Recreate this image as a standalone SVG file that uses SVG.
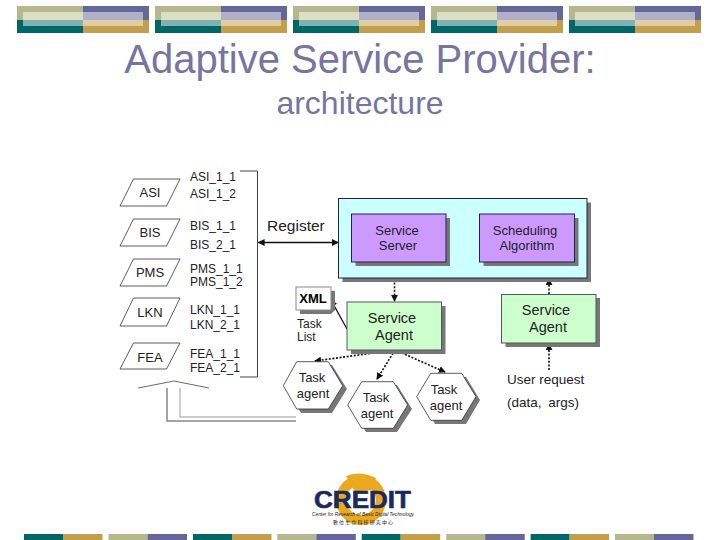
<svg xmlns="http://www.w3.org/2000/svg" width="720" height="540" viewBox="0 0 720 540">
<style>
text{font-family:"Liberation Sans",Arial,sans-serif;fill:#222}
.t{font-size:12px}.m{text-anchor:middle}
.l{font-size:13px}
.title{fill:#75759f;text-anchor:middle}
.p{fill:#fff;stroke:#333;stroke-width:.8}
.sh{fill:#777}
.con{fill:none;stroke:#111;stroke-width:1.3}
.dot{fill:none;stroke:#111;stroke-width:1.6;stroke-dasharray:2 1.6}
</style>
<defs>
<marker id="a" viewBox="0 0 8 8" refX="7" refY="4" markerWidth="7" markerHeight="7" markerUnits="userSpaceOnUse" orient="auto-start-reverse"><path d="M0 0L8 4L0 8z" fill="#111"/></marker>
<g id="hb">
<rect x="0" y="0" width="66" height="14" fill="#b5b88f"/><rect x="66" y="0" width="66" height="14" fill="#666699"/>
<rect x="0" y="14" width="66" height="13" fill="#006666"/><rect x="66" y="14" width="66" height="13" fill="#c29f4c"/>
<rect x="6" y="6" width="60" height="8" fill="#dcdfc4"/><rect x="66" y="6" width="60" height="8" fill="#b0b0cc"/>
<rect x="6" y="14" width="60" height="6" fill="#80b2b2"/><rect x="66" y="14" width="60" height="6" fill="#e0cfa5"/>
</g>
<g id="fa"><rect width="39" height="6" fill="#006666"/><rect x="39" width="39.5" height="6" fill="#c29f4c"/></g>
<g id="fb"><rect width="39" height="6" fill="#b5b88f"/><rect x="39" width="39.5" height="6" fill="#666699"/></g>
</defs>
<rect width="720" height="540" fill="#fff"/>
<g id="header">
<use href="#hb" x="17" y="6"/><use href="#hb" x="155" y="6"/><use href="#hb" x="293" y="6"/><use href="#hb" x="431" y="6"/><use href="#hb" x="569" y="6"/>
</g>
<g id="footer">
<use href="#fa" x="24" y="534"/><use href="#fb" x="108.5" y="534"/><use href="#fa" x="193" y="534"/><use href="#fb" x="277.3" y="534"/><use href="#fa" x="361.7" y="534"/><use href="#fb" x="446.2" y="534"/><use href="#fa" x="530.6" y="534"/><use href="#fb" x="615" y="534"/>
</g>
<text class="title" x="360" y="73" font-size="40">Adaptive Service Provider:</text>
<text class="title" x="360" y="114" font-size="32">architecture</text>

<g id="connectors">
<path d="M240 171H257.5V377H240" fill="none" stroke="#444" stroke-width="1"/>
<path class="con" d="M258.500 242.500H338" stroke-width="1.800" marker-start="url(#a)" marker-end="url(#a)"/>
<path d="M138 388L174 381L209 388" fill="none" stroke="#444" stroke-width=".8"/>
<path d="M167 388V421H296" fill="none" stroke="#888" stroke-width="1.500"/>
<path d="M180 388V417H296" fill="none" stroke="#999" stroke-width="1"/>
<path class="con" d="M446.500 238H479" marker-start="url(#a)" marker-end="url(#a)"/>
<path class="dot" d="M394.500 279V301" marker-end="url(#a)"/>
<path class="dot" d="M549 294V279" marker-end="url(#a)"/>
<path class="dot" d="M549 370V344" marker-end="url(#a)"/>
<path class="con" d="M331 300L347 329" stroke-width="1.600" marker-start="url(#a)"/>
<path class="dot" d="M395 350L315 361" marker-end="url(#a)"/>
<path class="dot" d="M395 350L377 379" marker-end="url(#a)"/>
<path class="dot" d="M395 350L445 372" marker-end="url(#a)"/>
</g>

<g id="n-asi"><path class="p" d="M133.500 179H180L166.500 206H120Z"/><text class="l m" x="150" y="197">ASI</text></g>
<g id="n-bis"><path class="p" d="M133.500 219H180L166.500 246H120Z"/><text class="l m" x="150" y="237">BIS</text></g>
<g id="n-pms"><path class="p" d="M133.500 259H180L166.500 286H120Z"/><text class="l m" x="150" y="277">PMS</text></g>
<g id="n-lkn"><path class="p" d="M133.500 298H180L166.500 326H120Z"/><text class="l m" x="150" y="317">LKN</text></g>
<g id="n-fea"><path class="p" d="M133.500 343H180L166.500 369H120Z"/><text class="l m" x="150" y="362">FEA</text></g>

<g id="services">
<text class="t" x="190" y="181">ASI_1_1</text><text class="t" x="190" y="198">ASI_1_2</text>
<text class="t" x="190" y="230">BIS_1_1</text><text class="t" x="190" y="249">BIS_2_1</text>
<text class="t" x="190" y="273">PMS_1_1</text><text class="t" x="190" y="286">PMS_1_2</text>
<text class="t" x="190" y="314">LKN_1_1</text><text class="t" x="190" y="329">LKN_2_1</text>
<text class="t" x="190" y="358">FEA_1_1</text><text class="t" x="190" y="372">FEA_2_1</text>
</g>
<text id="register" x="267" y="231" font-size="15.500">Register</text>

<g id="n-container"><rect class="sh" x="342.500" y="202.500" width="248.500" height="79.500"/><rect x="338.500" y="198.500" width="248.500" height="79.500" fill="#ccffff" stroke="#223"/></g>
<g id="n-server"><rect class="sh" x="355.500" y="218" width="94.500" height="48"/><rect x="351.500" y="214" width="94.500" height="48" fill="#cc99ff" stroke="#224"/><text class="m" x="397" y="235" font-size="13">Service</text><text class="m" x="398" y="250" font-size="13">Server</text></g>
<g id="n-sched"><rect class="sh" x="483.500" y="218" width="95" height="48"/><rect x="479.500" y="214" width="95" height="48" fill="#cc99ff" stroke="#224"/><text class="m" x="525" y="235" font-size="13">Scheduling</text><text class="m" x="527" y="250" font-size="13">Algorithm</text></g>
<g id="n-agent1"><rect class="sh" x="351" y="306" width="94.500" height="48"/><rect x="347" y="302" width="94.500" height="48" fill="#ccffcc" stroke="#556"/><text class="m" x="392" y="323" font-size="14.500">Service</text><text class="m" x="394" y="340" font-size="14.500">Agent</text></g>
<g id="n-agent2"><rect class="sh" x="505.500" y="298" width="94.500" height="49"/><rect x="501.500" y="294.500" width="94.500" height="48.500" fill="#ccffcc" stroke="#556"/><text class="m" x="546" y="315" font-size="14.500">Service</text><text class="m" x="548" y="332" font-size="14.500">Agent</text></g>
<g id="n-xml"><path class="sh" d="M300 291H335V310L331 314H300Z"/><rect x="296" y="287" width="35" height="23" fill="#fff" stroke="#888"/><text class="m" x="313" y="303" font-size="13" font-weight="700" style="fill:#000">XML</text></g>
<g id="tasklist"><text class="t" x="297" y="328">Task</text><text class="t" x="297" y="341">List</text></g>

<g id="n-task1"><path class="sh" d="M287 389L301 365H332L347 389L332 413H301Z"/><path class="p" d="M283.300 385.700L296.700 361.700H328.300L342.700 385.700L328.300 409H296.700Z"/><text class="m" x="312" y="382" font-size="13">Task</text><text class="m" x="313" y="398" font-size="13">agent</text></g>
<g id="n-task2"><path class="sh" d="M352 409L366 385H397L412 409L397 432H366Z"/><path class="p" d="M347.700 405L361.700 381.700H393.300L407.700 405L393.300 428.300H361.700Z"/><text class="m" x="376" y="402" font-size="13">Task</text><text class="m" x="377" y="418" font-size="13">agent</text></g>
<g id="n-task3"><path class="sh" d="M421 400L435 377H466L480 400L466 424H435Z"/><path class="p" d="M416.700 396.700L430.700 373.300H461.700L476 396.700L461.700 420.300H430.700Z"/><text class="m" x="444" y="394" font-size="13">Task</text><text class="m" x="446" y="410" font-size="13">agent</text></g>
<g id="userreq"><text x="507" y="384" font-size="13.500">User request</text><text x="507" y="407" font-size="13.500" word-spacing="3">(data, args)</text></g>

<g id="logo">
<circle cx="361" cy="500" r="20" fill="none" stroke="#eaa91f" stroke-width="10"/>
<path d="M346 476Q360 470 376 478L372 490L355 492Z" fill="#eaa91f"/>
<text x="314" y="508" font-size="23" font-weight="700" textLength="97" lengthAdjust="spacingAndGlyphs" style="fill:#1a2a5e;stroke:#1a2a5e;stroke-width:.6">CREDIT</text>
<text x="312" y="516" font-size="4.500" font-style="italic" textLength="102" lengthAdjust="spacingAndGlyphs" style="fill:#222">Center for Research of Basic Digital Technology</text>
<text x="333" y="523.500" font-size="5" textLength="60" style="font-family:'Noto Sans CJK TC',sans-serif;fill:#222">數位生命科技研究中心</text>
</g>
</svg>
